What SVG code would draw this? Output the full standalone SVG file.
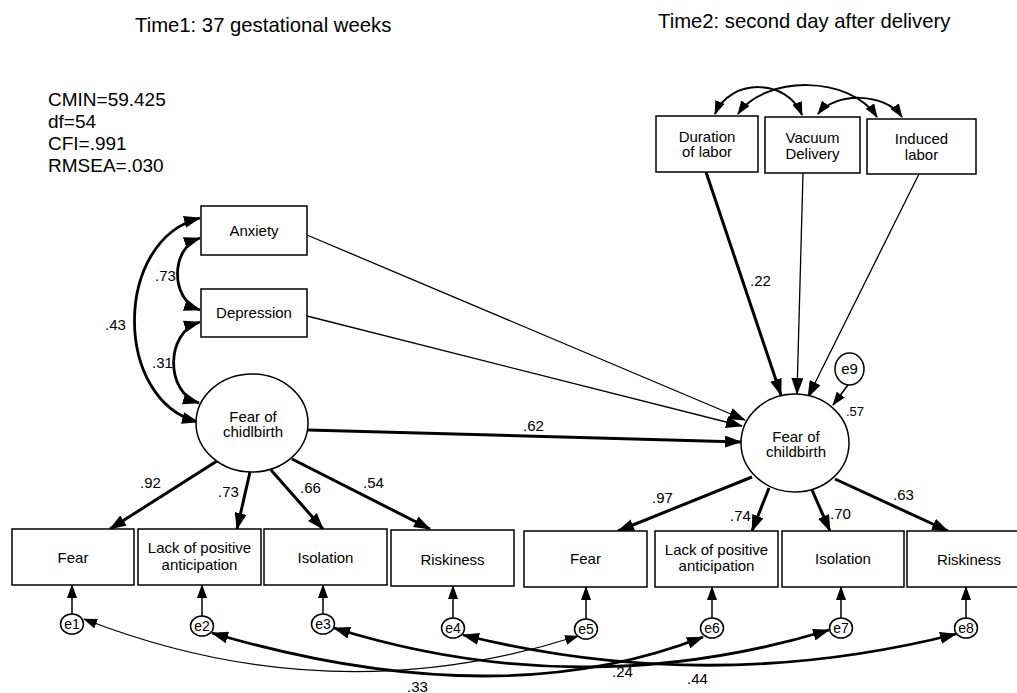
<svg xmlns="http://www.w3.org/2000/svg" width="1017" height="693" viewBox="0 0 1017 693">
<defs>
<marker id="ah" viewBox="0 0 17 12" refX="16" refY="6" markerWidth="17" markerHeight="12" orient="auto-start-reverse" markerUnits="userSpaceOnUse"><path d="M0,0 L17,6 L0,12 z" fill="#000"/></marker>
<marker id="ahm" viewBox="0 0 14 10" refX="13" refY="5" markerWidth="14" markerHeight="10" orient="auto-start-reverse" markerUnits="userSpaceOnUse"><path d="M0,0 L14,5 L0,10 z" fill="#000"/></marker>
</defs>
<style>
text{font-family:"Liberation Sans",Arial,sans-serif;fill:#000}
.box{fill:#fff;stroke:#000;stroke-width:1.5}
.lv{fill:#fff;stroke:#000;stroke-width:1.5}
.lbl{font-size:15px;text-anchor:middle}
.coef{font-size:15px}
.et{font-size:14px;text-anchor:middle}
.fit{font-size:19px}
.title{font-size:20.3px}
.thick{fill:none;stroke:#000;stroke-width:3;marker-end:url(#ah)}
.thin{fill:none;stroke:#000;stroke-width:1.3;marker-end:url(#ah)}
.earr{fill:none;stroke:#000;stroke-width:1.5;marker-end:url(#ahm)}
.cov{fill:none;stroke:#000;stroke-width:2.8;marker-start:url(#ah);marker-end:url(#ah)}
.covt{fill:none;stroke:#000;stroke-width:2;marker-start:url(#ahm);marker-end:url(#ahm)}
.covthin{fill:none;stroke:#000;stroke-width:1.3;marker-start:url(#ahm);marker-end:url(#ahm)}
</style>
<rect width="1017" height="693" fill="#fff"/>

<g id="titles">
<text class="title" x="135" y="32">Time1: 37 gestational weeks</text>
<text class="title" x="658" y="28">Time2: second day after delivery</text>
</g>
<g id="fit">
<text class="fit" x="48" y="106">CMIN=59.425</text>
<text class="fit" x="48" y="128">df=54</text>
<text class="fit" x="48" y="150">CFI=.991</text>
<text class="fit" x="48" y="172">RMSEA=.030</text>
</g>

<g id="connectors">
<path class="cov" d="M200,238 C170,248 170,300 200,310"/>
<path class="cov" d="M200,322 C165,332 165,393 199,403"/>
<path class="cov" d="M200,218 C113,240 113,400 198,422"/>
<path class="covt" d="M715,114 C730,78 787,78 802,115"/>
<path class="covt" d="M738,114 C765,75 850,75 877,117"/>
<path class="covt" d="M818,114 C835,92 885,92 902,117"/>
<path class="thin" d="M307,235 L745,420"/>
<path class="thin" d="M307,316 L742,426"/>
<path class="thick" d="M308,430 L741,442"/>
<path class="thick" d="M706,172 L781,395"/>
<path class="thin" d="M803,173 L797,394"/>
<path class="thin" d="M919,174 L808,397"/>
<path class="earr" d="M848,385 L833,405"/>
<path class="thick" d="M217,461 L110,529"/>
<path class="thick" d="M250,472 L237,529"/>
<path class="thick" d="M271,470 L323,529"/>
<path class="thick" d="M292,459 L430,529"/>
<path class="thick" d="M752,477 L618,531"/>
<path class="thick" d="M769,488 L752,531"/>
<path class="thick" d="M812,490 L830,531"/>
<path class="thick" d="M835,479 L948,531"/>
<path class="earr" d="M72,614 L72,585"/>
<path class="earr" d="M202,616 L202,585"/>
<path class="earr" d="M323,614 L323,585"/>
<path class="earr" d="M453,618 L453,586"/>
<path class="earr" d="M586,619 L586,587"/>
<path class="earr" d="M712,618 L712,587"/>
<path class="earr" d="M841,618 L841,587"/>
<path class="earr" d="M966,618 L966,587"/>
<path class="covthin" d="M84,619 Q330,715 578,636"/>
<path class="cov" d="M212,633 Q498,717 703,637"/>
<path class="cov" d="M334,628 Q581,705 829,630"/>
<path class="cov" d="M463,635 Q710,696 956,634"/>
</g>

<g id="coefficients">
<text class="coef" x="155" y="281">.73</text>
<text class="coef" x="152" y="368">.31</text>
<text class="coef" x="105" y="330">.43</text>
<text class="coef" x="523" y="431">.62</text>
<text class="coef" x="750" y="286">.22</text>
<text class="coef" x="846" y="416" style="font-size:13px">.57</text>
<text class="coef" x="140" y="488">.92</text>
<text class="coef" x="218" y="497">.73</text>
<text class="coef" x="300" y="493">.66</text>
<text class="coef" x="363" y="488">.54</text>
<text class="coef" x="652" y="503">.97</text>
<text class="coef" x="730" y="521">.74</text>
<text class="coef" x="830" y="519">.70</text>
<text class="coef" x="893" y="500">.63</text>
<text class="coef" x="407" y="692">.33</text>
<text class="coef" x="612" y="677">.24</text>
<text class="coef" x="687" y="684">.44</text>
</g>

<g id="anxiety"><rect class="box" x="201" y="206" width="106" height="49"/><text class="lbl" x="254" y="236">Anxiety</text></g>
<g id="depression"><rect class="box" x="201" y="289" width="106" height="48"/><text class="lbl" x="254" y="318">Depression</text></g>
<g id="fear1"><ellipse class="lv" cx="252" cy="423" rx="56" ry="49"/><text class="lbl"><tspan x="253" y="422">Fear of</tspan><tspan x="253" y="437">chidlbirth</tspan></text></g>

<g id="duration"><rect class="box" x="656" y="116" width="102" height="56"/><text class="lbl"><tspan x="707" y="142">Duration</tspan><tspan x="707" y="157">of labor</tspan></text></g>
<g id="vacuum"><rect class="box" x="765" y="117" width="95" height="56"/><text class="lbl"><tspan x="812.5" y="143">Vacuum</tspan><tspan x="812.5" y="159">Delivery</tspan></text></g>
<g id="induced"><rect class="box" x="867" y="119" width="109" height="55"/><text class="lbl"><tspan x="921.5" y="144">Induced</tspan><tspan x="921.5" y="160">labor</tspan></text></g>

<g id="fear2"><ellipse class="lv" cx="795" cy="443" rx="54" ry="49"/><text class="lbl"><tspan x="796" y="442">Fear of</tspan><tspan x="796" y="457">childbirth</tspan></text></g>
<g id="e9"><ellipse class="lv" cx="849.5" cy="369" rx="14.5" ry="16"/><text class="et" x="849.5" y="374" style="font-size:15px">e9</text></g>

<g id="t1-fear"><rect class="box" x="12" y="529" width="122" height="56"/><text class="lbl" x="73" y="563">Fear</text></g>
<g id="t1-lack"><rect class="box" x="138" y="529" width="123" height="56"/><text class="lbl"><tspan x="199.5" y="553">Lack of positive</tspan><tspan x="199.5" y="570">anticipation</tspan></text></g>
<g id="t1-isolation"><rect class="box" x="264" y="529" width="123" height="56"/><text class="lbl" x="325.5" y="563">Isolation</text></g>
<g id="t1-riskiness"><rect class="box" x="391" y="530" width="123" height="56"/><text class="lbl" x="452.5" y="565">Riskiness</text></g>

<g id="t2-fear"><rect class="box" x="524" y="531" width="123" height="56"/><text class="lbl" x="585.5" y="564">Fear</text></g>
<g id="t2-lack"><rect class="box" x="655" y="531" width="123" height="56"/><text class="lbl"><tspan x="716.5" y="555">Lack of positive</tspan><tspan x="716.5" y="571">anticipation</tspan></text></g>
<g id="t2-isolation"><rect class="box" x="782" y="531" width="122" height="56"/><text class="lbl" x="843" y="564">Isolation</text></g>
<g id="t2-riskiness"><rect class="box" x="907" y="531" width="123" height="56"/><text class="lbl" x="969" y="565">Riskiness</text></g>

<g id="e1"><ellipse class="lv" cx="72" cy="624" rx="11.5" ry="10"/><text class="et" x="72" y="629">e1</text></g>
<g id="e2"><ellipse class="lv" cx="202" cy="626" rx="11.5" ry="10"/><text class="et" x="202" y="631">e2</text></g>
<g id="e3"><ellipse class="lv" cx="323" cy="624" rx="11.5" ry="10"/><text class="et" x="323" y="629">e3</text></g>
<g id="e4"><ellipse class="lv" cx="453" cy="628" rx="11.5" ry="10"/><text class="et" x="453" y="633">e4</text></g>
<g id="e5"><ellipse class="lv" cx="586" cy="629" rx="11.5" ry="10"/><text class="et" x="586" y="634">e5</text></g>
<g id="e6"><ellipse class="lv" cx="712" cy="628" rx="11.5" ry="10"/><text class="et" x="712" y="633">e6</text></g>
<g id="e7"><ellipse class="lv" cx="841" cy="628" rx="11.5" ry="10"/><text class="et" x="841" y="633">e7</text></g>
<g id="e8"><ellipse class="lv" cx="966" cy="628" rx="11.5" ry="10"/><text class="et" x="966" y="633">e8</text></g>
</svg>
